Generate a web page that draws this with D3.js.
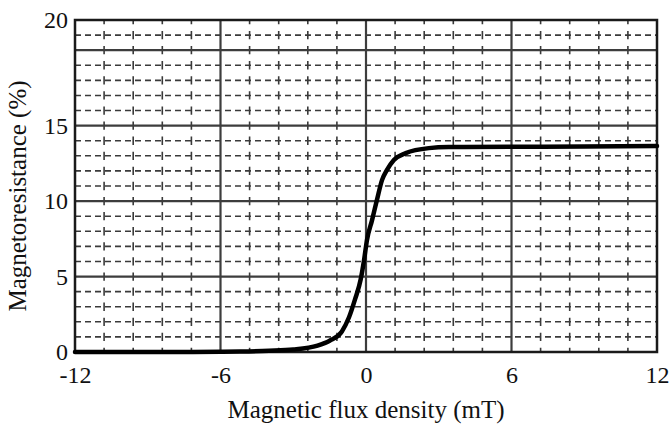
<!DOCTYPE html>
<html>
<head>
<meta charset="utf-8">
<script src="https://cdn.jsdelivr.net/npm/d3@7"></script>
<style>
  svg text.serif-label { font-family: "Liberation Serif", "Tinos", "Times New Roman" !important; }
</style>
</head>
<body style="margin:0">
<svg id="mr-figure" width="669" height="424" style="display:block"></svg>
<script>
// Magnetoresistance (%) versus magnetic flux density (mT)
const fluxDensity = [-12, -8, -6, -5.2, -4, -3, -2, -1.5, -1.0, -0.7, -0.45, -0.22, -0.08, 0.04, 0.25, 0.45, 0.66, 0.86, 1.15, 1.64, 2.59, 3.41, 6, 9, 12];
const magnetoresistance = [0, 0, 0.01, 0.03, 0.08, 0.16, 0.42, 0.75, 1.35, 2.3, 3.5, 4.8, 6.09, 7.42, 8.74, 10.07, 11.39, 12.05, 12.72, 13.18, 13.51, 13.58, 13.6, 13.62, 13.65];

// Axis ticks
const xTickValues = [-12, -6, 0, 6, 12];
const xTickLabels = ["-12", "-6", "0", "6", "12"];
const yTickValues = [0, 5, 10, 15, 22];
const yTickLabels = ["0", "5", "10", "15", "20"];

// Graph-paper grid
const xMajorGrid = [-6, 0, 6];
const xMinorGrid = d3.range(-12, 12.001, 1.2).filter(v => Math.abs(v / 6 - Math.round(v / 6)) > 1e-6);
const yMajorGrid = [5, 10, 15, 20];
const yMinorGrid = d3.range(1, 22, 1).filter(v => v % 5 !== 0);

const margin = { left: 75, right: 12, top: 20, bottom: 72 };
const W = 669, H = 424;
const FONT = '"Liberation Serif", "Tinos", "Times New Roman"';
const svg = d3.select("#mr-figure");

const x = d3.scaleLinear().domain([-12, 12]).range([margin.left, W - margin.right]);
const y = d3.scaleLinear().domain([0, 22]).range([H - margin.bottom, margin.top]);

const g = svg.append("g");

// minor horizontal (dashed)
g.append("g").selectAll("line").data(yMinorGrid).join("line")
  .attr("x1", x(-12)).attr("x2", x(12))
  .attr("y1", d => y(d)).attr("y2", d => y(d))
  .attr("stroke", "#3a3a3a").attr("stroke-width", 1.6)
  .attr("stroke-dasharray", "6,4");

// minor vertical (dashed, dashes centred on the horizontal rules)
const unitPx = y(0) - y(1);
const vDash = unitPx * 0.55;
g.append("g").selectAll("line").data(xMinorGrid).join("line")
  .attr("x1", d => x(d)).attr("x2", d => x(d))
  .attr("y1", y(22)).attr("y2", y(0))
  .attr("stroke", "#3a3a3a").attr("stroke-width", 1.6)
  .attr("stroke-dasharray", `${vDash},${unitPx - vDash}`)
  .attr("stroke-dashoffset", vDash / 2);

// major grid (solid)
g.append("g").selectAll("line").data(yMajorGrid).join("line")
  .attr("x1", x(-12)).attr("x2", x(12))
  .attr("y1", d => y(d)).attr("y2", d => y(d))
  .attr("stroke", "#3d3d3d").attr("stroke-width", 2.2);
g.append("g").selectAll("line").data(xMajorGrid).join("line")
  .attr("x1", d => x(d)).attr("x2", d => x(d))
  .attr("y1", y(22)).attr("y2", y(0))
  .attr("stroke", "#3d3d3d").attr("stroke-width", 2.2);

// frame
g.append("rect")
  .attr("x", x(-12)).attr("y", y(22))
  .attr("width", x(12) - x(-12)).attr("height", y(0) - y(22))
  .attr("fill", "none").attr("stroke", "#1a1a1a").attr("stroke-width", 2.5);

// curve
const line = d3.line()
  .x((d, i) => x(fluxDensity[i]))
  .y(d => y(d))
  .curve(d3.curveMonotoneX);
g.append("path")
  .datum(magnetoresistance)
  .attr("d", line)
  .attr("fill", "none")
  .attr("stroke", "#000")
  .attr("stroke-width", 4.5)
  .attr("stroke-linejoin", "round")
  .attr("stroke-linecap", "round");

// axes (labels only; the frame carries the lines)
const xAxis = d3.axisBottom(x).tickValues(xTickValues)
  .tickFormat((d, i) => xTickLabels[i]).tickSize(0).tickPadding(14);
const gx = svg.append("g").attr("transform", `translate(0,${y(0)})`).call(xAxis)
  .attr("font-family", FONT).attr("font-size", 24);
gx.select(".domain").remove();
gx.selectAll("text").classed("serif-label", true)
  .attr("font-family", FONT).attr("font-size", 24).attr("fill", "#111");

const yAxis = d3.axisLeft(y).tickValues(yTickValues)
  .tickFormat((d, i) => yTickLabels[i]).tickSize(0).tickPadding(7);
const gy = svg.append("g").attr("transform", `translate(${x(-12)},0)`).call(yAxis)
  .attr("font-family", FONT).attr("font-size", 24);
gy.select(".domain").remove();
gy.selectAll("text").classed("serif-label", true)
  .attr("font-family", FONT).attr("font-size", 24).attr("fill", "#111");

// axis titles
svg.append("text").classed("serif-label", true)
  .attr("x", x(0)).attr("y", 418)
  .attr("text-anchor", "middle")
  .attr("font-family", FONT).attr("font-size", 25).attr("fill", "#111")
  .text("Magnetic flux density (mT)");
svg.append("text").classed("serif-label", true)
  .attr("transform", `translate(26,${(y(0) + y(22)) / 2 + 10}) rotate(-90)`)
  .attr("text-anchor", "middle")
  .attr("font-family", FONT).attr("font-size", 25).attr("fill", "#111")
  .text("Magnetoresistance (%)");
</script>
</body>
</html>
